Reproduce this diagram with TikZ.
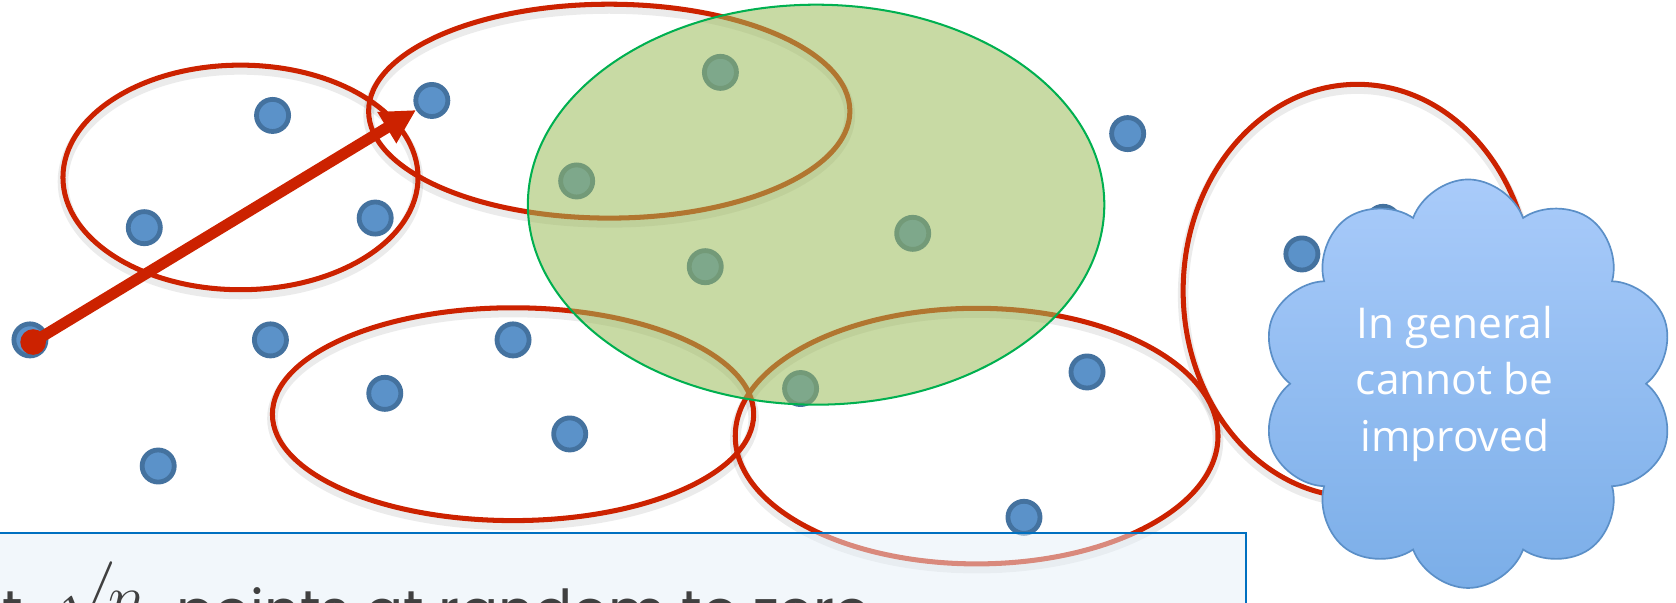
\documentclass[tikz,border=0pt]{standalone}
\usepackage{fontspec}
\usetikzlibrary{shapes.symbols,arrows.meta}
\newfontfamily\cloudfont{Open Sans}
\newfontfamily\boxfont{Poppins}
\definecolor{ringred}{HTML}{CC2200}
\definecolor{ptfill}{HTML}{5B92C9}
\definecolor{ptline}{HTML}{44729F}
\definecolor{greenfill}{HTML}{9BBB59}
\definecolor{greenline}{HTML}{00B050}
\definecolor{boxline}{HTML}{0070C0}
\definecolor{boxfill}{HTML}{E6F0F8}
\definecolor{cloudtop}{HTML}{A9CBFA}
\definecolor{cloudbot}{HTML}{7BAEE8}
\definecolor{cloudline}{HTML}{5B8FC7}
\definecolor{textgray}{HTML}{404040}
\begin{document}
\begin{tikzpicture}[x=0.01cm,y=-0.01cm,
  pt/.style={circle, fill=ptfill, draw=ptline, line width=1.28pt, minimum size=0.3cm, inner sep=0pt},
  ring/.style={draw=ringred, line width=1.34pt},
  ringshadow/.style={draw=black, opacity=0.08, line width=2.8pt},
  greenarea/.style={draw=greenline, line width=0.54pt, fill=greenfill, fill opacity=0.55},
  textbox/.style={draw=boxline, line width=0.57pt, fill=boxfill, fill opacity=0.5},
  cloudbox/.style={cloud, cloud puffs=10, cloud puff arc=140, aspect=1, minimum width=3.87cm, minimum height=3.82cm, draw=cloudline, line width=0.45pt, top color=cloudtop, bottom color=cloudbot, inner sep=0pt},
  bigarrow/.style={draw=ringred, line width=2.95pt, -{Triangle[length=9.1pt,width=9.1pt]}}
]
\useasboundingbox (0,0) rectangle (1568,564);
\clip (0,0) rectangle (1568,564);

% shadows of the red ellipses
\draw[ringshadow] (225,170) ellipse [x radius=1.66cm, y radius=1.05cm];
\draw[ringshadow] (570,108) ellipse [x radius=2.25cm, y radius=1.0cm];
\draw[ringshadow] (480,391.5) ellipse [x radius=2.25cm, y radius=0.995cm];
\draw[ringshadow] (913.7,412) ellipse [x radius=2.257cm, y radius=1.195cm];
\draw[ringshadow] (1270,276) ellipse [x radius=1.63cm, y radius=1.93cm];

% red ellipses
\draw[ring] (225,166) ellipse [x radius=1.66cm, y radius=1.05cm];
\draw[ring] (570,104) ellipse [x radius=2.25cm, y radius=1.0cm];
\draw[ring] (480,387.5) ellipse [x radius=2.25cm, y radius=0.995cm];
\draw[ring] (913.7,408) ellipse [x radius=2.257cm, y radius=1.195cm];
\draw[ring] (1270,272) ellipse [x radius=1.63cm, y radius=1.93cm];

% points
\node[pt] (p1) at (255,108) {};
\node[pt] (p2) at (404,94) {};
\node[pt] (p3) at (135,213) {};
\node[pt] (p4) at (351,204) {};
\node[pt] (p5) at (28,318) {};
\node[pt] (p6) at (253,318) {};
\node[pt] (p7) at (480,318) {};
\node[pt] (p8) at (360,368) {};
\node[pt] (p9) at (533,406) {};
\node[pt] (p10) at (148,436) {};
\node[pt] (p11) at (1055,125) {};
\node[pt] (p12) at (1017,348) {};
\node[pt] (p13) at (958,484) {};
\node[pt] (p14) at (1218,237.6) {};
\node[pt] (p15) at (1294,208) {};
\node[pt] (g1) at (674,67.7) {};
\node[pt] (g2) at (539.5,169.3) {};
\node[pt] (g3) at (659.8,249.5) {};
\node[pt] (g4) at (853.9,218.3) {};
\node[pt] (g5) at (749,363.5) {};

% source dot and arrow
\node[circle, fill=ringred, minimum size=0.24cm, inner sep=0pt] (src) at (31,320) {};
\draw[bigarrow] (src.center) -- (p2);

% green region
\draw[greenarea] (763.5,191.5) ellipse [x radius=2.695cm, y radius=1.87cm];

% text box
\draw[textbox] (-10,498.4) rectangle (1165.5,620);
\node[anchor=base west, inner sep=0pt, text=textgray, font=\boxfont\fontsize{15pt}{18pt}\selectfont] (settext) at (2,590)
  {\makebox[1.62cm][l]{\llap{Se}t\rlap{\hspace{0.34cm}\raisebox{2pt}{\scalebox{1.15}[1.3]{$\sqrt{\vphantom{N}}$}}}\rlap{\hspace{0.80cm}\raisebox{3pt}{\scalebox{1.2}{$n$}}}}points at random to zero};

% cloud
\node[cloudbox] (cloud) at (1373.5,359) {};
\node[text=white, align=center, inner sep=0pt, font=\cloudfont\fontsize{11.3pt}{15pt}\selectfont] (cloudtext) at (1361,359) {In general\\cannot be\\improved};
\end{tikzpicture}
\end{document}
